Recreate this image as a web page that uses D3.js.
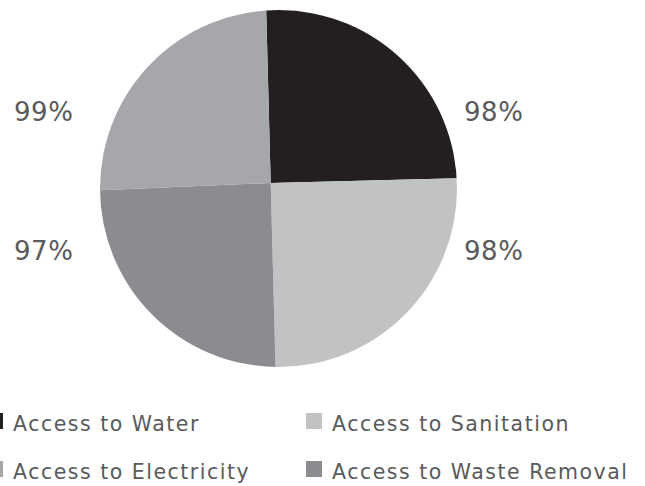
<!DOCTYPE html>
<html>
<head>
<meta charset="utf-8">
<script src="https://cdn.jsdelivr.net/npm/d3@7"></script>
<style>
  html, body { margin: 0; padding: 0; background: #fff; }
  svg { display: block; }
  text { font-family: "DejaVu Sans", "Noto Sans", sans-serif; fill: #5a5a5c; }
</style>
</head>
<body>
<svg id="chart" width="645" height="486"></svg>
<script>
// slices in drawing order (clockwise from the top)
var sliceNames = ["Access to Water", "Access to Sanitation", "Access to Waste Removal", "Access to Electricity"];
var sliceValues = [98, 98, 97, 99];
var sliceLabels = ["98%", "98%", "97%", "99%"];

// legend, read row by row
var legendNames = ["Access to Water", "Access to Sanitation", "Access to Electricity", "Access to Waste Removal"];

var color = d3.scaleOrdinal()
    .domain(["Access to Water", "Access to Sanitation", "Access to Waste Removal", "Access to Electricity"])
    .range(["#231f20", "#c1c2c4", "#8b8c8f", "#a6a7aa"]);

var svg = d3.select("#chart");

// the slices meet a little up-left of the disc's centre
var hub = { x: 270.7, y: 183 },
    disc = { x: 278.5, y: 188.5, r: 178.5 },
    tilt = -0.026;

svg.append("defs").append("clipPath")
    .attr("id", "disc")
    .append("circle")
    .attr("cx", disc.x)
    .attr("cy", disc.y)
    .attr("r", disc.r);

var pie = d3.pie()
    .sort(null)
    .startAngle(tilt)
    .endAngle(2 * Math.PI + tilt);

var arcs = pie(sliceValues);

var wedge = d3.arc()
    .innerRadius(0)
    .outerRadius(400);

svg.append("g")
    .attr("clip-path", "url(#disc)")
    .append("g")
    .attr("transform", "translate(" + hub.x + "," + hub.y + ")")
    .selectAll("path")
    .data(arcs)
    .enter().append("path")
    .attr("d", wedge)
    .style("fill", function(d, i) { return color(sliceNames[i]); });

// percentage labels sit in two columns beside the pie
svg.append("g")
    .selectAll("text")
    .data(arcs)
    .enter().append("text")
    .attr("x", function(d) {
        var mid = (d.startAngle + d.endAngle) / 2;
        return hub.x + (Math.sin(mid) > 0 ? 223 : -227);
    })
    .attr("y", function(d) {
        var mid = (d.startAngle + d.endAngle) / 2;
        return hub.y + (Math.cos(mid) > 0 ? -62 : 77);
    })
    .style("text-anchor", "middle")
    .style("font-size", "26px")
    .style("letter-spacing", "0.5px")
    .text(function(d, i) { return sliceLabels[i]; });

var legend = svg.append("g")
    .selectAll(".legend")
    .data(legendNames)
    .enter().append("g")
    .attr("class", "legend")
    .attr("transform", function(d, i) {
        return "translate(" + ((i % 2) * 319) + "," + (Math.floor(i / 2) * 48) + ")";
    });

legend.append("rect")
    .attr("x", -13)
    .attr("y", 413)
    .attr("width", 16)
    .attr("height", 16)
    .style("fill", color);

legend.append("text")
    .attr("x", 13)
    .attr("y", 431)
    .style("font-size", "20.5px")
    .style("letter-spacing", "1.5px")
    .text(function(d) { return d; });
</script>
</body>
</html>
